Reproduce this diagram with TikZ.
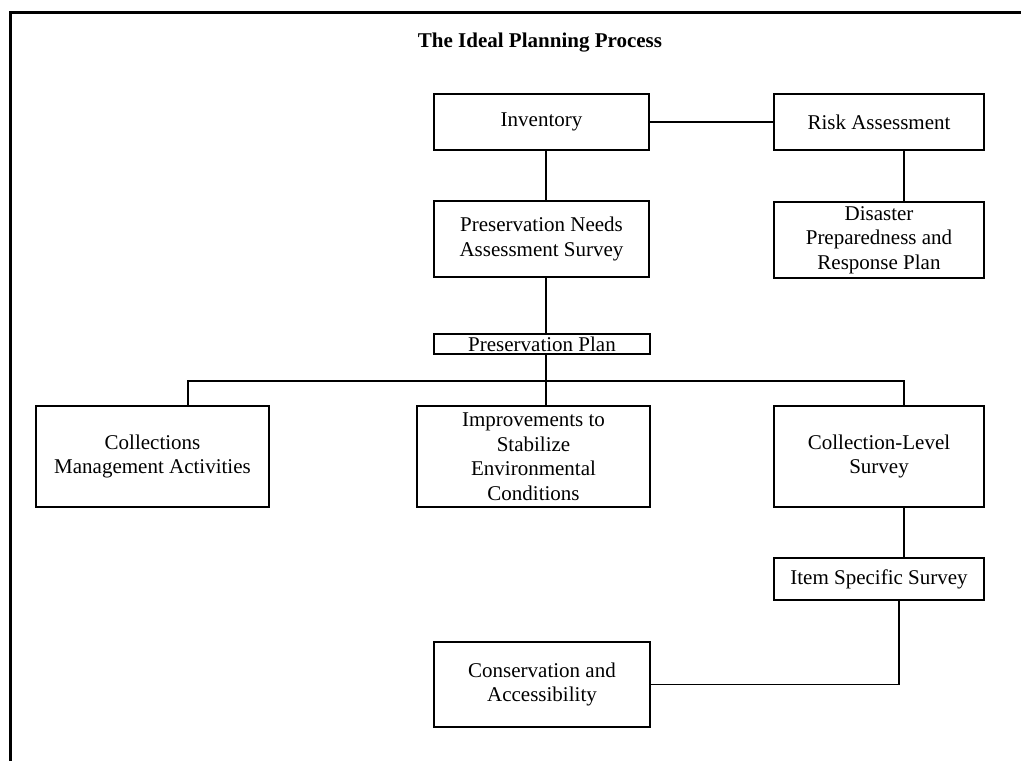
\documentclass[tikz,border=0pt]{standalone}
\usepackage{fontspec}
\setmainfont{Liberation Serif}
\tikzset{
  box/.style={draw, line width=1.6pt, align=center, inner sep=0pt,
    font=\fontsize{21}{24.5}\selectfont},
  link/.style={line width=1.4pt},
  buslink/.style={line width=2pt},
}
\begin{document}
\begin{tikzpicture}[x=1pt,y=-1pt]
    \useasboundingbox (0,0) rectangle (1021,761);
    \draw [line width=3pt] (10,761) -- (10,12) -- (1021,12);

    \node [font=\bfseries\fontsize{21}{24}\selectfont] (title) at (540,43) {The Ideal Planning Process};

    % top rows
    \node [box, minimum width=215, minimum height=56] (inv) at (541.5,122) {Inventory};
    \node [box, minimum width=210, minimum height=56] (risk) at (879,122) {Risk Assessment};
    \node [box, minimum width=215, minimum height=76] (pnas) at (541.5,239) {Preservation Needs\\Assessment Survey};
    \node [box, minimum width=210, minimum height=76] (dis) at (879,240) {Disaster\\Preparedness and\\Response Plan};
    \node [box, minimum width=216, minimum height=20] (pplan) at (542,344) {Preservation Plan};

    % middle row
    \node [box, minimum width=233, minimum height=101] (coll) at (152.5,456.5) {Collections\\Management Activities};
    \node [box, minimum width=233, minimum height=101] (impr) at (533.5,456.5) {Improvements to\\Stabilize\\Environmental\\Conditions};
    \node [box, minimum width=210, minimum height=101] (cls) at (879,456.5) {Collection-Level\\Survey};

    % bottom
    \node [box, minimum width=210, minimum height=42] (item) at (879,579) {Item Specific Survey};
    \node [box, minimum width=216, minimum height=85] (cons) at (542,684.5) {Conservation and\\Accessibility};

    \coordinate (midx) at (546,0);
    \coordinate (rx) at (904,0);
    \coordinate (lx) at (188,0);
    \coordinate (sx) at (899,0);
    \coordinate (bus) at (0,381);

    \draw [link] (inv.east) -- (risk.west);
    \draw [link] (inv.south -| midx) -- (pnas.north -| midx);
    \draw [link] (pnas.south -| midx) -- (pplan.north -| midx);
    \draw [link] (pplan.south -| midx) -- (impr.north -| midx);
    \draw [buslink] (risk.south -| rx) -- (dis.north -| rx);
    \draw [buslink] (coll.north -| lx) |- (bus -| rx) -- (cls.north -| rx);
    \draw [link] (cls.south -| rx) -- (item.north -| rx);
    \draw [link] (item.south -| sx) |- (cons.east);
\end{tikzpicture}
\end{document}
